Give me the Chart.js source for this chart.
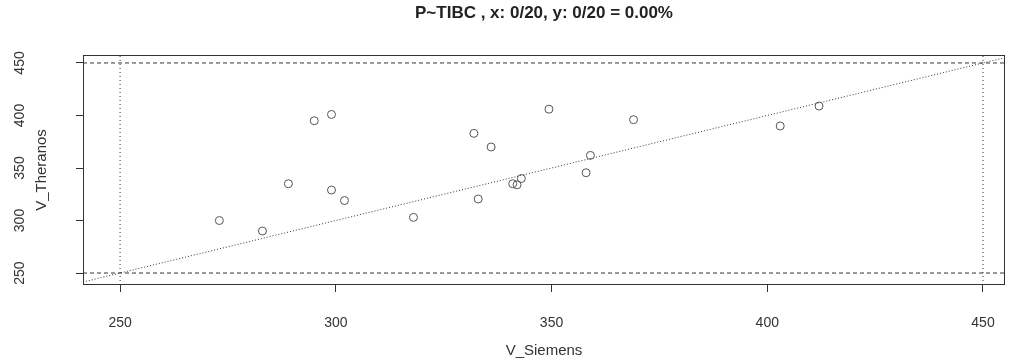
<!DOCTYPE html>
<html>
<head>
<meta charset="utf-8">
<script src="https://cdn.jsdelivr.net/npm/chart.js@4.4.0/dist/chart.umd.min.js"></script>
<style>
  html, body { margin: 0; padding: 0; background: #fff; }
</style>
</head>
<body>
<canvas id="chart" width="1011" height="363"></canvas>
<script>
// measured pairs (Siemens vs Theranos)
const siemens  = [273, 283, 289, 295, 299, 299, 302, 318, 332, 333, 336, 341, 342, 343, 349.4, 358, 359, 369, 403, 412];
const theranos = [300, 290, 335, 395, 401, 329, 319, 303, 383, 320.5, 370, 335, 334, 340, 406, 345.5, 362, 396, 390, 409];

const xTicks = [250, 300, 350, 400, 450];
const yTicks = [250, 300, 350, 400, 450];
const limits = [250, 450];
const xRange = [241.4, 455.1];
const yRange = [238.6, 457.6];

const fontFam = "'Liberation Sans', Arial, sans-serif";
const ink = '#333';

const points = siemens.map((x, i) => ({ x: x, y: theranos[i] }));

function refLine(data, dash) {
    return {
        type: 'line',
        data: data,
        borderColor: ink,
        borderWidth: 1,
        borderDash: dash,
        pointRadius: 0,
        fill: false
    };
}

const datasets = [{
    type: 'scatter',
    data: points,
    pointStyle: 'circle',
    pointRadius: 4,
    backgroundColor: 'rgba(0,0,0,0)',
    borderColor: '#555',
    pointBorderWidth: 1
}];

// identity line
datasets.push(refLine([{ x: xRange[0], y: xRange[0] }, { x: xRange[1], y: xRange[1] }], [1, 2]));

limits.forEach(l => {
    datasets.push(refLine([{ x: xRange[0], y: l }, { x: xRange[1], y: l }], [4, 3]));
    datasets.push(refLine([{ x: l, y: yRange[0] }, { x: l, y: yRange[1] }], [1, 3]));
});

// box around the plot region
const frame = {
    id: 'frame',
    afterDraw(chart) {
        const { ctx, chartArea: a } = chart;
        ctx.save();
        ctx.strokeStyle = ink;
        ctx.lineWidth = 1;
        ctx.strokeRect(a.left + 0.5, a.top + 0.5, a.right - a.left - 1, a.bottom - a.top - 1);
        ctx.restore();
    }
};

new Chart(document.getElementById('chart'), {
    data: { datasets: datasets },
    plugins: [frame],
    options: {
        responsive: false,
        animation: false,
        layout: { padding: { right: 6 } },
        plugins: {
            legend: { display: false },
            tooltip: { enabled: false },
            title: {
                display: true,
                fullSize: false,
                text: 'P~TIBC , x: 0/20, y: 0/20 = 0.00%',
                color: '#222',
                font: { family: fontFam, size: 17, weight: 'bold' },
                padding: { top: 3, bottom: 31.6 }
            }
        },
        scales: {
            x: {
                type: 'linear',
                min: xRange[0],
                max: xRange[1],
                afterFit: s => { s.height = 78; s.paddingLeft = 0; s.paddingRight = 0; },
                afterBuildTicks: s => { s.ticks = xTicks.map(v => ({ value: v })); },
                grid: { display: true, drawOnChartArea: false, drawTicks: true, tickLength: 7, color: ink },
                border: { display: false },
                ticks: { color: ink, padding: 23, font: { family: fontFam, size: 14 } },
                title: {
                    display: true,
                    text: 'V_Siemens',
                    color: ink,
                    font: { family: fontFam, size: 15 },
                    padding: { top: 0, bottom: 3 }
                }
            },
            y: {
                type: 'linear',
                min: yRange[0],
                max: yRange[1],
                afterFit: s => { s.width = 83; s.paddingTop = 0; s.paddingBottom = 0; },
                afterBuildTicks: s => { s.ticks = yTicks.map(v => ({ value: v })); },
                grid: { display: true, drawOnChartArea: false, drawTicks: true, tickLength: 7, color: ink },
                border: { display: false },
                ticks: {
                    color: ink,
                    minRotation: 90,
                    maxRotation: 90,
                    crossAlign: 'center',
                    padding: 44,
                    font: { family: fontFam, size: 14 }
                },
                title: {
                    display: true,
                    text: 'V_Theranos',
                    color: ink,
                    font: { family: fontFam, size: 15 },
                    padding: { top: 33, bottom: 0 }
                }
            }
        }
    }
});
</script>
</body>
</html>
